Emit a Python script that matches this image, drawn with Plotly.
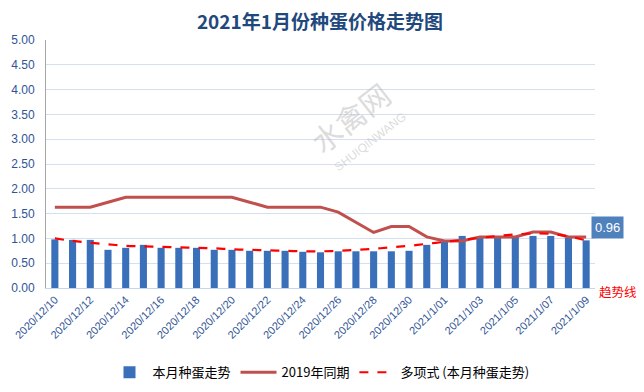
import plotly.graph_objects as go

dates = ["2020/12/10","2020/12/11","2020/12/12","2020/12/13","2020/12/14","2020/12/15","2020/12/16",
         "2020/12/17","2020/12/18","2020/12/19","2020/12/20","2020/12/21","2020/12/22","2020/12/23",
         "2020/12/24","2020/12/25","2020/12/26","2020/12/27","2020/12/28","2020/12/29","2020/12/30",
         "2020/12/31","2021/1/01","2021/1/02","2021/1/03","2021/1/04","2021/1/05","2021/1/06",
         "2021/1/07","2021/1/08","2021/1/09"]

this_month = [0.98, 0.97, 0.97, 0.77, 0.81, 0.87, 0.81, 0.81, 0.81, 0.77, 0.77, 0.75, 0.75, 0.75,
              0.73, 0.72, 0.74, 0.74, 0.74, 0.74, 0.75, 0.87, 0.93, 1.05, 1.03, 1.03, 1.03, 1.05,
              1.05, 1.01, 0.96]

same_2019 = [1.63, 1.63, 1.63, 1.73, 1.83, 1.83, 1.83, 1.83, 1.83, 1.83, 1.83, 1.73, 1.63, 1.63,
             1.63, 1.63, 1.53, 1.33, 1.12, 1.24, 1.24, 1.03, 0.95, 0.95, 1.03, 1.03, 1.03, 1.13,
             1.13, 1.03, 1.03]

trend = [1.00, 0.95, 0.91, 0.88, 0.85, 0.84, 0.83, 0.82, 0.81, 0.80, 0.78, 0.77, 0.76, 0.75,
         0.74, 0.74, 0.75, 0.77, 0.79, 0.82, 0.85, 0.89, 0.93, 0.97, 1.01, 1.05, 1.08, 1.10,
         1.09, 1.04, 0.96]

tick_labels = dates[::2]

fig = go.Figure()
fig.add_trace(go.Bar(x=dates, y=this_month, name="本月种蛋走势",
                     marker=dict(color="#3A70BA", line=dict(width=0))))
fig.add_trace(go.Scatter(x=dates, y=same_2019, name="2019年同期", mode="lines",
                         line=dict(color="#C0504D", width=3)))
fig.add_trace(go.Scatter(x=dates, y=trend, name="多项式 (本月种蛋走势)", mode="lines",
                         line=dict(color="#FF0000", width=2.2, dash="dash", shape="spline")))

# page has an 8px default body margin; figure sized to fit the 644x392 window
fig.update_layout(
    width=636, height=384,
    margin=dict(l=38, r=49, t=32, b=104, autoexpand=False),
    paper_bgcolor="white", plot_bgcolor="white",
    title=dict(text="<b>2021年1月份种蛋价格走势图</b>", xref="paper", x=0.499, xanchor="center",
               y=1 - 14 / 384, yanchor="middle",
               font=dict(family="Noto Sans CJK SC", size=19, color="#1F497D")),
    bargap=0.6,
    showlegend=True,
    legend=dict(orientation="h", x=0.5, xanchor="center", y=-0.34, yanchor="middle",
                font=dict(family="Noto Sans CJK SC", size=13, color="#000000"),
                traceorder="normal", itemwidth=36, tracegroupgap=0),
    font=dict(family="Liberation Sans", size=11, color="#2F5496"),
)
fig.update_xaxes(type="category", tickmode="array", tickvals=tick_labels, ticktext=tick_labels,
                 tickangle=-45, showgrid=False, showline=True, linecolor="#C6D6EC", linewidth=1,
                 ticks="", automargin=False, tickfont=dict(size=11, color="#2F5496"))
fig.update_yaxes(range=[0, 5], dtick=0.5, tickformat=".2f", showgrid=True,
                 gridcolor="#D4E0F0", gridwidth=1, showline=True, linecolor="#A6A6A6",
                 zeroline=False, ticks="", automargin=False, ticklabelstandoff=8,
                 tickfont=dict(size=12, color="#2F5496"))

# watermark
fig.add_annotation(xref="paper", yref="paper", x=(350 - 46) / 549, y=(288 - 117) / 248,
                   text="水禽网", showarrow=False, textangle=-38,
                   xanchor="center", yanchor="middle",
                   font=dict(family="Noto Sans CJK SC", size=30, color="rgba(185,185,185,0.5)"))
fig.add_annotation(xref="paper", yref="paper", x=(370 - 46) / 549, y=(288 - 142) / 248,
                   text="SHUIQINWANG", showarrow=False, textangle=-38,
                   xanchor="center", yanchor="middle",
                   font=dict(family="Liberation Sans", size=12, color="rgba(185,185,185,0.5)"))

fig.add_annotation(xref="paper", yref="y", x=(607 - 46) / 549, y=1.22, text="0.96", showarrow=False,
                   bgcolor="#4F81BD", font=dict(color="white", size=13, family="Liberation Sans"),
                   xanchor="center", yanchor="middle", borderpad=3)
fig.add_annotation(xref="paper", yref="paper", x=(618 - 46) / 549, y=(288 - 291) / 248,
                   text="趋势线", showarrow=False,
                   font=dict(color="#FF0000", size=12.5, family="Noto Sans CJK SC"),
                   xanchor="center", yanchor="middle")

fig.write_html("out.html")
